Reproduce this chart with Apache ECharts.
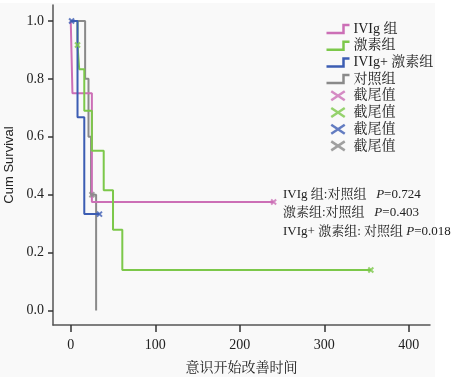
<!DOCTYPE html>
<html>
<head>
<meta charset="utf-8">
<script src="https://cdn.jsdelivr.net/npm/echarts@6/dist/echarts.min.js"></script>
<style>
html,body{margin:0;padding:0;background:#ffffff;}
#bg{position:absolute;left:0;top:3px;width:435px;height:374px;background:#f9f9f9;}
#c{position:absolute;left:0;top:0;width:462px;height:384px;}
</style>
</head>
<body>
<div id="bg"></div>
<div id="c"></div>
<script>
// Kaplan-Meier step data: [time, cumulative survival]
const ivigCurve = [[0,1],[2,0.75],[25,0.375],[240,0.375]];
const steroidCurve = [[0,1],[8,0.917],[10,0.833],[16,0.69],[25,0.552],[39,0.415],[50,0.279],[61,0.14],[355,0.14]];
const comboCurve = [[0,1],[8,0.667],[16,0.333],[34,0.333]];
const controlCurve = [[0,1],[17,0.8],[21,0.6],[24,0.4],[30,0]];
// censored points
const ivigCensor = [[240,0.375]];
const steroidCensor = [[8,0.917],[355,0.14]];
const comboCensor = [[1,1],[34,0.333]];
const controlCensor = [[25,0.4]];

const groupNames = ['IVIg 组','激素组','IVIg+ 激素组','对照组'];
const censorLabel = '截尾值';
const xTicks = [0,100,200,300,400];
const yTicks = [0,0.2,0.4,0.6,0.8,1.0];
const pLines = [
  ['IVIg 组:对照组   ','0.724'],
  ['激素组:对照组   ','0.403'],
  ['IVIg+ 激素组: 对照组 ','0.018']
];

const colors = ['#cc6fb6','#7cc84a','#3c5db3','#8a8a8a'];
const curves = [ivigCurve, steroidCurve, comboCurve, controlCurve];
const censors = [ivigCensor, steroidCensor, comboCensor, controlCensor];
const censorNames = ['\u200b','\u200b\u200b','\u200b\u200b\u200b','\u200b\u200b\u200b\u200b'].map(s => censorLabel + s);

const serif = "'Liberation Serif','Noto Serif CJK SC','Noto Sans CJK SC',serif";
const stepIcon = 'path://M0,9 L17,9 L17,1 L23,1';
const xIcon = 'path://M0,0 L12,8 M12,0 L0,8';

const series = [];
curves.forEach((d,i) => {
  series.push({
    name: groupNames[i], type:'line', step:'end', data:d,
    showSymbol:false, symbol:'none',
    lineStyle:{color:colors[i], width:2},
    itemStyle:{color:colors[i]},
    z: 3 - (i===3?1:0)
  });
});
censors.forEach((d,i) => {
  series.push({
    name: censorNames[i], type:'scatter', data:d,
    symbol: xIcon, symbolSize:[5,5],
    itemStyle:{color:'none', borderColor:colors[i], borderWidth:2},
    z: 5
  });
});

const legendData = [];
groupNames.forEach((n,i) => legendData.push({name:n, icon:stepIcon,
  itemStyle:{color:'none', borderColor:colors[i], borderWidth:2.5}}));
censorNames.forEach((n,i) => legendData.push({name:n, icon:xIcon,
  itemStyle:{color:'none', borderColor:colors[i], borderWidth:2.5}}));

const chart = echarts.init(document.getElementById('c'), null, {renderer:'canvas'});
chart.setOption({
  animation:false,
  backgroundColor:'transparent',
  grid:{left:53, top:5, width:377, height:320, containLabel:false, outerBoundsMode:'none'},
  xAxis:{
    type:'value', min:-21, max:425,
    name:'意识开始改善时间', nameLocation:'middle', nameGap:36,
    nameTextStyle:{fontFamily:serif, fontSize:14, color:'#222'},
    axisLine:{show:true, onZero:false, lineStyle:{color:'#555', width:1.5}},
    axisTick:{show:true, length:7, customValues:xTicks, lineStyle:{color:'#333', width:1.5}},
    axisLabel:{customValues:xTicks, margin:13, fontFamily:serif, fontSize:14, color:'#222'},
    splitLine:{show:false}
  },
  yAxis:{
    type:'value', min:-0.05, max:1.055,
    name:'Cum Survival', nameLocation:'middle', nameGap:33,
    nameTextStyle:{fontFamily:"'Liberation Sans',Arial,sans-serif", fontSize:13, color:'#222'},
    axisLine:{show:true, onZero:false, lineStyle:{color:'#555', width:1.5}},
    axisTick:{show:true, length:5, customValues:yTicks, lineStyle:{color:'#333', width:1.5}},
    axisLabel:{customValues:yTicks, margin:9, fontFamily:serif, fontSize:14, color:'#222',
      formatter: v => v.toFixed(1)},
    splitLine:{show:false}
  },
  legend:{
    orient:'vertical', left:319, top:17,
    itemWidth:23, itemHeight:9, itemGap:2.7,
    data:legendData,
    formatter: n => n.replace(/\u200b/g,''),
    textStyle:{fontFamily:serif, fontSize:14, color:'#222', lineHeight:14, padding:[0,0,0,-1]}
  },
  graphic: pLines.map((p,i) => ({
    type:'text', left:283, top:188 + i*18.5,
    style:{
      text: p[0] + '{i|P}=' + p[1],
      font: '13px ' + serif, fill:'#222',
      rich:{i:{fontStyle:'italic', fontFamily:serif, fontSize:13, fill:'#222'}}
    }
  })),
  series: series
});
</script>
</body>
</html>
